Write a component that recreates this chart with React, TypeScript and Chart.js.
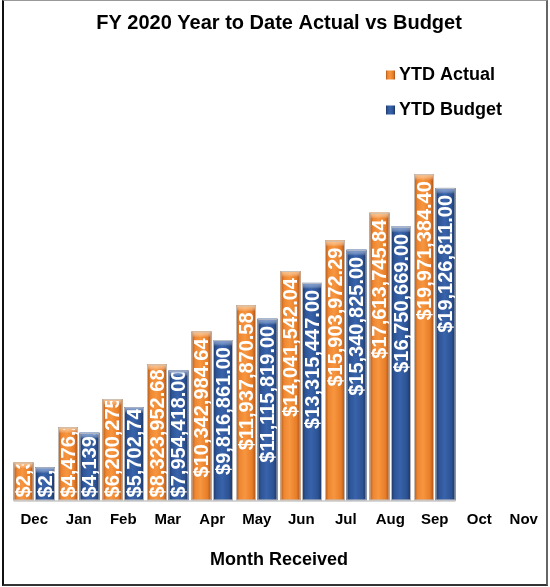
import React, { useEffect, useRef } from "react";
import { Chart, registerables } from "chart.js";

Chart.register(...registerables);

const categories = ["Dec", "Jan", "Feb", "Mar", "Apr", "May", "Jun", "Jul", "Aug", "Sep", "Oct", "Nov"];
const ytdActual: (number | null)[] = [
  2318640.52, 4476215.33, 6200275.91, 8323952.68, 10342984.64, 11937870.58,
  14041542.04, 15903972.29, 17613745.84, 19971384.4, null, null,
];
const ytdBudget: (number | null)[] = [
  2027494.0, 4139102.0, 5702746.0, 7954418.0, 9816861.0, 11115819.0,
  13315447.0, 15340825.0, 16750669.0, 19126811.0, null, null,
];
const seriesNames = ["YTD Actual", "YTD Budget"];
const chartTitle = "FY 2020 Year to Date Actual vs Budget";
const xAxisTitle = "Month Received";
const yMax = 25000000;

const FONT = "'Liberation Sans', Arial, Helvetica, sans-serif";

const palettes = [
  {
    base: "#F08A34",
    stops: [[0, "#B05818"], [0.18, "#EE8632"], [0.45, "#F7963F"], [0.8, "#E87D28"], [1, "#A5511A"]],
    light: "rgba(250,190,130,0.95)",
  },
  {
    base: "#2F5597",
    stops: [[0, "#1C3764"], [0.18, "#2E5596"], [0.45, "#3863AB"], [0.8, "#2C5293"], [1, "#1A325D"]],
    light: "rgba(120,150,205,0.95)",
  },
];

const fmt = (v: number) =>
  "$" + v.toLocaleString("en-US", { minimumFractionDigits: 2, maximumFractionDigits: 2 });

const barPlugin = {
  id: "barStyle",
  afterDatasetsDraw(chart: any) {
    const ctx = chart.ctx as CanvasRenderingContext2D;
    let lineL = Infinity;
    let lineR = -Infinity;
    let lineY = 0;
    chart.data.datasets.forEach((ds: any, di: number) => {
      const meta = chart.getDatasetMeta(di);
      const pal = palettes[di];
      meta.data.forEach((el: any, i: number) => {
        const v = ds.data[i];
        if (v == null) return;
        const { x, y, base, width } = el.getProps(["x", "y", "base", "width"], true);
        const left = x - width / 2;
        const right = x + width / 2;
        const h = base - y;
        lineL = Math.min(lineL, left);
        lineR = Math.max(lineR, right);
        lineY = base;
        ctx.save();
        const g = ctx.createLinearGradient(left, 0, right, 0);
        pal.stops.forEach((s: any) => g.addColorStop(s[0], s[1]));
        ctx.fillStyle = g;
        ctx.fillRect(left, y, width, h);
        // top bevel
        const bh = Math.min(6, h);
        const vg = ctx.createLinearGradient(0, y, 0, y + bh);
        vg.addColorStop(0, pal.light);
        vg.addColorStop(1, "rgba(255,255,255,0)");
        ctx.fillStyle = vg;
        ctx.fillRect(left + 1, y, width - 2, bh);
        ctx.strokeStyle = "rgba(195,195,195,0.9)";
        ctx.lineWidth = 1;
        ctx.strokeRect(left + 0.5, y + 0.5, width - 1, h - 1);
        // label
        ctx.beginPath();
        ctx.rect(left, y + 2, width, h - 2);
        ctx.clip();
        ctx.font = `bold 20px ${FONT}`;
        ctx.fillStyle = "#FFFFFF";
        ctx.textAlign = "left";
        ctx.textBaseline = "middle";
        const txt = fmt(v);
        const len = ctx.measureText(txt).width;
        const padTop = 7;
        const padBottom = 3;
        let yStart: number;
        if (len + padTop + padBottom <= h) yStart = y + padTop + len;
        else yStart = base - padBottom;
        ctx.translate(x + 1, yStart);
        ctx.rotate(-Math.PI / 2);
        ctx.fillText(txt, 0, 0);
        ctx.restore();
      });
    });
    if (lineR > lineL) {
      ctx.save();
      ctx.strokeStyle = "#C8C8C8";
      ctx.lineWidth = 1.5;
      ctx.beginPath();
      ctx.moveTo(lineL, lineY + 0.5);
      ctx.lineTo(lineR, lineY + 0.5);
      ctx.stroke();
      ctx.restore();
    }
  },
};

const legendPlugin = {
  id: "customLegend",
  afterDraw(chart: any) {
    const ctx = chart.ctx as CanvasRenderingContext2D;
    const rows = [75, 110];
    chart.data.datasets.forEach((ds: any, di: number) => {
      const pal = palettes[di];
      const cy = rows[di];
      ctx.save();
      const g = ctx.createLinearGradient(386, 0, 395, 0);
      pal.stops.forEach((s: any) => g.addColorStop(s[0], s[1]));
      ctx.fillStyle = g;
      ctx.fillRect(386, cy - 4.5, 9, 9);
      ctx.font = `bold 18px ${FONT}`;
      ctx.fillStyle = "#000";
      ctx.textAlign = "left";
      ctx.textBaseline = "middle";
      ctx.fillText(ds.label, 399, cy);
      ctx.restore();
    });
  },
};

export default function App() {
  const ref = useRef<HTMLCanvasElement | null>(null);
  useEffect(() => {
    if (!ref.current) return;
    const chart = new Chart(ref.current, {
      type: "bar",
      data: {
        labels: categories,
        datasets: [
          {
            label: seriesNames[0],
            data: ytdActual,
            backgroundColor: palettes[0].base,
            borderWidth: 0,
            categoryPercentage: 0.966,
            barPercentage: 0.93,
          },
          {
            label: seriesNames[1],
            data: ytdBudget,
            backgroundColor: palettes[1].base,
            borderWidth: 0,
            categoryPercentage: 0.966,
            barPercentage: 0.93,
          },
        ],
      },
      options: {
        animation: false,
        responsive: false,
        maintainAspectRatio: false,
        layout: { padding: { left: 12, right: 4, top: 0, bottom: 16 } },
        plugins: {
          legend: { display: false },
          tooltip: { enabled: false },
          title: {
            display: true,
            text: chartTitle,
            color: "#000",
            font: { family: FONT, size: 20, weight: "bold" },
            padding: { top: 11, bottom: 57 },
          },
        },
        scales: {
          x: {
            grid: { display: false, drawTicks: false },
            border: { display: false },
            ticks: {
              color: "#000",
              font: { family: FONT, size: 15, weight: "bold" },
              padding: 10,
              maxRotation: 0,
              autoSkip: false,
            },
            title: {
              display: true,
              text: xAxisTitle,
              color: "#000",
              font: { family: FONT, size: 18, weight: "bold" },
              padding: { top: 11, bottom: 0 },
            },
          },
          y: { display: false, min: 0, max: yMax },
        },
      },
      plugins: [barPlugin, legendPlugin],
    } as any);
    return () => chart.destroy();
  }, []);
  return (
    <div style={{ position: "absolute", left: 0, top: 0, width: 550, height: 587, background: "#fff" }}>
      <canvas ref={ref} width={550} height={587} style={{ position: "absolute", left: 0, top: 0, width: 550, height: 587 }} />
      <div
        style={{
          position: "absolute",
          left: 2,
          top: 0,
          width: 546,
          height: 586,
          boxSizing: "border-box",
          borderLeft: "2px solid #111",
          borderTop: "1px solid #999",
          borderRight: "2px solid #666",
          borderBottom: "2px solid #333",
          pointerEvents: "none",
        }}
      />
    </div>
  );
}
